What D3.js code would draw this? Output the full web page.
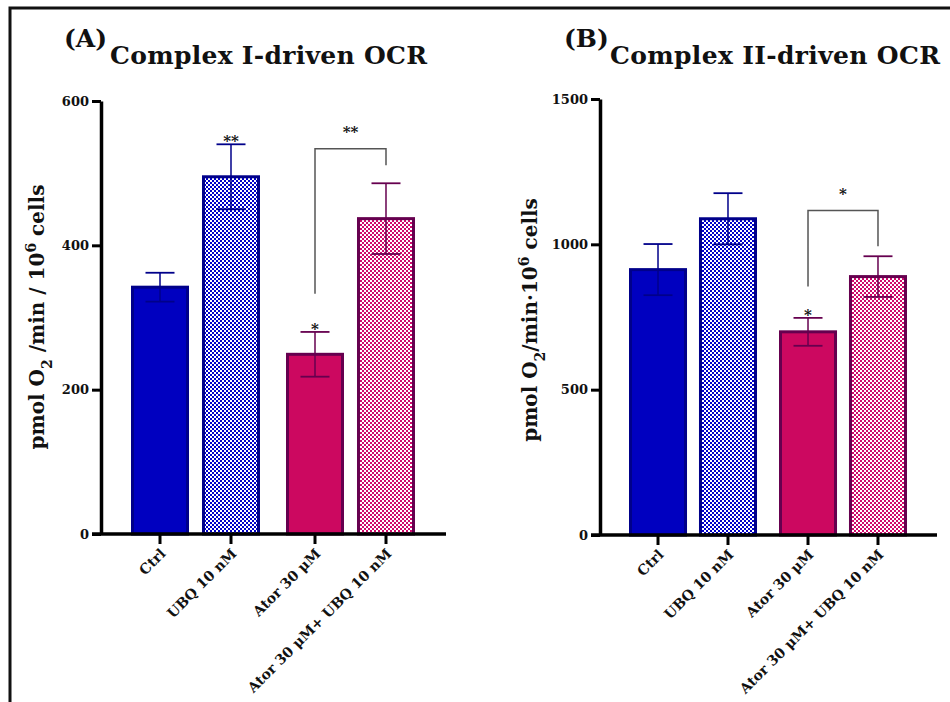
<!DOCTYPE html>
<html>
<head>
<meta charset="utf-8">
<script src="https://cdn.jsdelivr.net/npm/d3@7"></script>
<style>
  body { margin: 0; background: #fff; }
  svg { display: block; }
  text { font-family: "DejaVu Serif", "Liberation Serif", serif; font-weight: bold; fill: #111; }
</style>
</head>
<body>
<div id="chart"></div>
<script>
// groups shared by both panels
const groups = ['Ctrl', 'UBQ 10 nM', 'Ator 30 μM', 'Ator 30 μM+ UBQ 10 nM'];

// panel A - complex I driven OCR (mean, sem)
const ocrComplexI = [342, 495, 249, 437];
const semComplexI = [20, 45, 31, 49];
const starsComplexI = ['', '**', '*', ''];
const ticksComplexI = [0, 200, 400, 600];
// bracket: [top value, left leg end, right leg end]
const bracketComplexI = [534, 333, 511];

// panel B - complex II driven OCR
const ocrComplexII = [913, 1088, 699, 889];
const semComplexII = [88, 88, 48, 70];
const starsComplexII = ['', '', '*', ''];
const ticksComplexII = [0, 500, 1000, 1500];
const bracketComplexII = [1116, 855, 993];

const width = 950, height = 702;

const svg = d3.select('#chart')
    .append('svg')
    .attr('width', width)
    .attr('height', height);

// checker patterns for the UBQ bars
const defs = svg.append('defs');
function checker(id, color) {
    const p = defs.append('pattern')
        .attr('id', id)
        .attr('width', 4)
        .attr('height', 4)
        .attr('patternUnits', 'userSpaceOnUse');
    p.append('rect').attr('width', 4).attr('height', 4).attr('fill', '#fff');
    p.append('rect').attr('width', 2).attr('height', 2).attr('fill', color);
    p.append('rect').attr('x', 2).attr('y', 2).attr('width', 2).attr('height', 2).attr('fill', color);
}
checker('chkBlue', '#0000c8');
checker('chkPink', '#d0086a');

const fills = ['#0000c0', 'url(#chkBlue)', '#cc0860', 'url(#chkPink)'];
const strokes = ['#00008a', '#00008a', '#66004f', '#66004f'];

// outer frame (left + top only)
svg.append('path')
    .attr('d', `M10,${height} L10,8 L${width},8`)
    .attr('fill', 'none')
    .attr('stroke', '#111')
    .attr('stroke-width', 3);

function drawPanel(opt) {
    const g = svg.append('g');
    const y = d3.scaleLinear()
        .domain([0, opt.ticks[opt.ticks.length - 1]])
        .range([opt.y0, opt.y1]);
    // two pairs of bars, each pair a band
    const outer = d3.scaleBand()
        .domain([0, 1])
        .range(opt.pairRange);
    const inner = d3.scaleBand()
        .domain([0, 1])
        .range([opt.innerOff, opt.innerOff + opt.innerSpan])
        .paddingInner(opt.innerPad);
    const xc = (i) => outer(Math.floor(i / 2)) + inner(i % 2) + inner.bandwidth() / 2;
    const bw = inner.bandwidth();

    // bars
    g.selectAll('rect.bar')
        .data(opt.values)
        .enter()
        .append('rect')
        .attr('class', 'bar')
        .attr('x', (d, i) => xc(i) - bw / 2 + 1.5)
        .attr('width', bw - 3)
        .attr('y', (d) => y(d))
        .attr('height', (d) => y(0) - y(d))
        .attr('fill', (d, i) => fills[i])
        .attr('stroke', (d, i) => strokes[i])
        .attr('stroke-width', 3);

    // error bars
    opt.values.forEach((v, i) => {
        const e = opt.sem[i];
        const x = xc(i);
        const col = strokes[i];
        g.append('line')
            .attr('x1', x).attr('x2', x)
            .attr('y1', y(v + e)).attr('y2', y(v - e))
            .attr('stroke', col).attr('stroke-width', 1.5);
        [v + e, v - e].forEach((t) => {
            g.append('line')
                .attr('x1', x - 14.5).attr('x2', x + 14.5)
                .attr('y1', y(t)).attr('y2', y(t))
                .attr('stroke', col).attr('stroke-width', 1.8);
        });
        if (opt.stars[i]) {
            g.append('text')
                .attr('x', x)
                .attr('y', y(v + e) + 2)
                .attr('text-anchor', 'middle')
                .attr('font-size', 15)
                .text(opt.stars[i]);
        }
    });

    // significance bracket between Ator and Ator+UBQ
    const b = opt.bracket;
    g.append('path')
        .attr('d', `M${xc(2)},${y(b[1])} L${xc(2)},${y(b[0])} L${xc(3)},${y(b[0])} L${xc(3)},${y(b[2])}`)
        .attr('fill', 'none')
        .attr('stroke', '#555')
        .attr('stroke-width', 1.5);
    g.append('text')
        .attr('x', (xc(2) + xc(3)) / 2)
        .attr('y', y(b[0]) - 12)
        .attr('text-anchor', 'middle')
        .attr('font-size', 15)
        .text(opt.bracketLabel);

    // y axis
    const yAxis = g.append('g')
        .attr('transform', `translate(${opt.axisX},0)`)
        .call(d3.axisLeft(y).tickValues(opt.ticks).tickFormat(d3.format('d'))
            .tickSize(9).tickSizeOuter(0).tickPadding(3));
    yAxis.select('.domain').attr('stroke', '#000').attr('stroke-width', 3.5);
    yAxis.selectAll('.tick line').attr('stroke', '#000').attr('stroke-width', 3);
    yAxis.selectAll('.tick text')
        .attr('font-family', '"DejaVu Serif", serif')
        .attr('font-weight', 'bold')
        .attr('font-size', 13)
        .attr('fill', '#111');

    // x axis line (runs under the 0 tick)
    g.append('line')
        .attr('x1', opt.axisX - 9).attr('x2', opt.xEnd)
        .attr('y1', y(0)).attr('y2', y(0))
        .attr('stroke', '#000').attr('stroke-width', 3.5);
    groups.forEach((name, i) => {
        const x = xc(i);
        g.append('line')
            .attr('x1', x).attr('x2', x)
            .attr('y1', y(0)).attr('y2', y(0) + 10)
            .attr('stroke', '#000').attr('stroke-width', 3);
        g.append('text')
            .attr('transform', `translate(${x + 3},${y(0) + 17}) rotate(-45)`)
            .attr('text-anchor', 'end')
            .attr('dy', '0.35em')
            .attr('font-size', 14)
            .text(name);
    });

    // y label
    const lab = g.append('text')
        .attr('transform', `translate(${opt.labelX},${opt.labelY}) rotate(-90)`)
        .attr('text-anchor', 'middle')
        .attr('font-size', 20);
    opt.label.forEach((part) => {
        const t = lab.append('tspan').text(part[0]);
        if (part[1] === 'sub') t.attr('baseline-shift', 'sub').attr('font-size', 14);
        if (part[1] === 'sup') t.attr('baseline-shift', 'super').attr('font-size', 14);
    });

    // panel letter and title
    g.append('text')
        .attr('x', opt.letterX).attr('y', 47)
        .attr('font-size', 25)
        .text(opt.letter);
    g.append('text')
        .attr('x', opt.titleX).attr('y', 64)
        .attr('font-size', 25)
        .attr('textLength', opt.titleLen)
        .text(opt.title);
}

drawPanel({
    values: ocrComplexI,
    sem: semComplexI,
    stars: starsComplexI,
    ticks: ticksComplexI,
    bracket: bracketComplexI,
    bracketLabel: '**',
    y0: 534, y1: 101,
    axisX: 101, xEnd: 446,
    pairRange: [118, 428],
    innerOff: 13, innerSpan: 129, innerPad: 0.183,
    labelX: 44, labelY: 317,
    label: [['pmol O'], ['2', 'sub'], [' /min / 10'], ['6', 'sup'], [' cells']],
    letter: '(A)', letterX: 64,
    title: 'Complex I-driven OCR', titleX: 110, titleLen: 317
});

drawPanel({
    values: ocrComplexII,
    sem: semComplexII,
    stars: starsComplexII,
    ticks: ticksComplexII,
    bracket: bracketComplexII,
    bracketLabel: '*',
    y0: 535, y1: 99,
    axisX: 600, xEnd: 937,
    pairRange: [618, 918],
    innerOff: 11, innerSpan: 128, innerPad: 0.171,
    labelX: 537, labelY: 320,
    label: [['pmol O'], ['2', 'sub'], ['/min·10'], ['6', 'sup'], [' cells']],
    letter: '(B)', letterX: 564,
    title: 'Complex II-driven OCR', titleX: 610, titleLen: 330
});
</script>
</body>
</html>
